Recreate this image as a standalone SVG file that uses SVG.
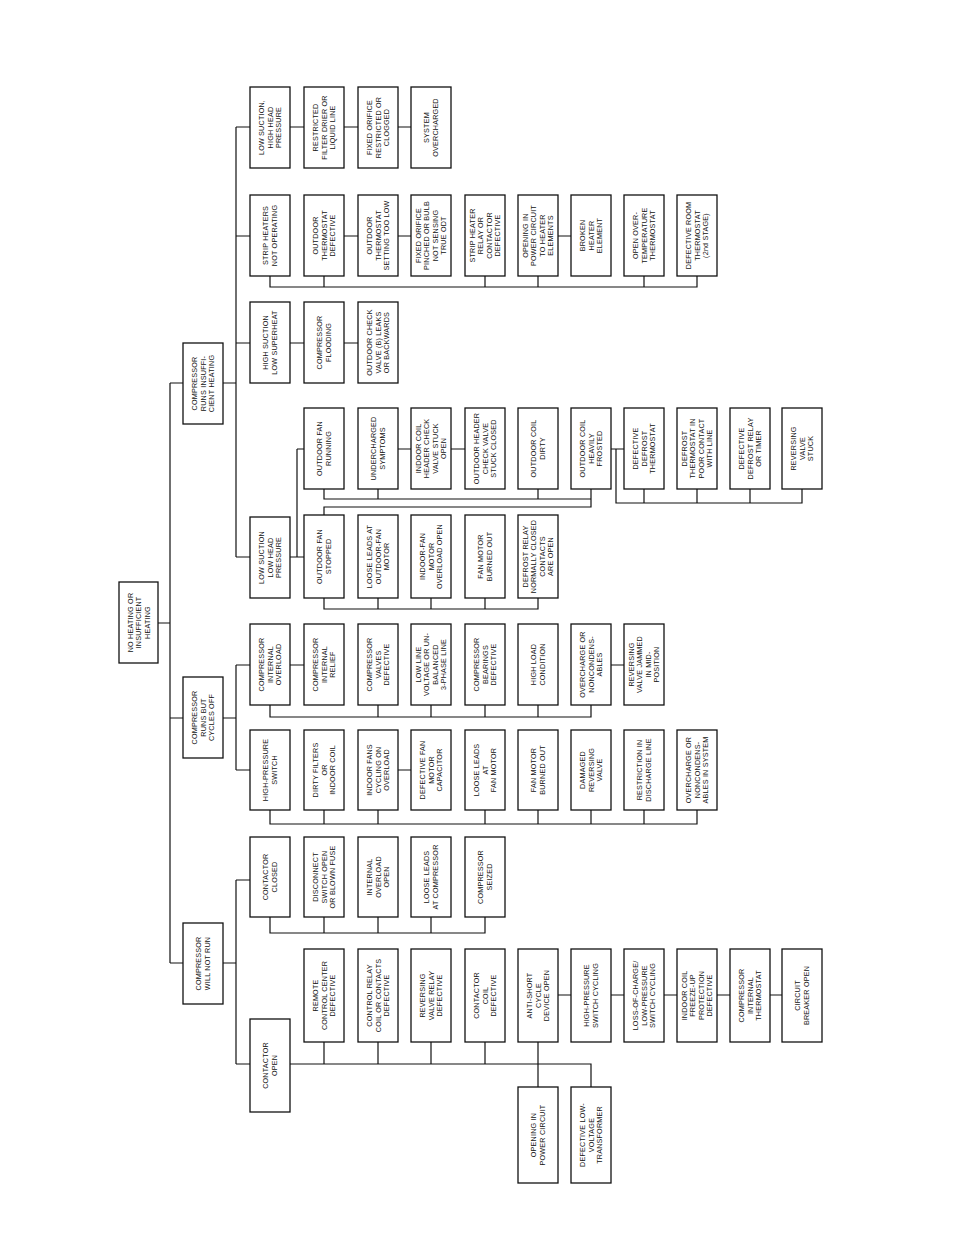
<svg xmlns="http://www.w3.org/2000/svg" width="954" height="1235" viewBox="0 0 954 1235">
<style>
rect{fill:#fff;stroke:#111;stroke-width:1.3}
text{font-family:"Liberation Sans",Arial,sans-serif;font-size:7.2px;fill:#111;text-anchor:middle;letter-spacing:0.2px}
#connectors path{fill:none;stroke:#111;stroke-width:1.2}
</style>
<rect x="0" y="0" width="954" height="1235" style="stroke:none"/>
<g id="connectors">
<path d="M158 623H170M170 383V963M170 383H183M170 718H183M170 963H183"/>
<path d="M223 383H236M236 127V557M236 127H250M236 236H250M236 343H250M236 557H250"/>
<path d="M290 127H304M344 127H358M398 127H411"/>
<path d="M344 236H358M398 236H411M558 236H571M270 276V287H697V276M324 276V287M485 276V287M538 276V287M644 276V287"/>
<path d="M290 343H304M344 343H358"/>
<path d="M290 557H297M297 449V557H304M297 449H304M398 449H411M451 449H465M611 449H624M616 449V503H802V489M644 489V503M697 489V503M750 489V503"/>
<path d="M324 489V499H591V489M378 489V499M538 489V499M591 499V507H324V515"/>
<path d="M324 598V609H538V598M378 598V609M431 598V609M485 598V609"/>
<path d="M223 718H236M236 665V770M236 665H250M236 770H250"/>
<path d="M290 665H304M611 665H624M270 705V717H591V705M378 705V717M431 705V717M485 705V717M538 705V717"/>
<path d="M398 770H411M270 810V824H697V810M324 810V824M378 810V824M485 810V824M538 810V824M591 810V824M644 810V824"/>
<path d="M223 963H236M236 880V1064M236 880H250M236 1064H250"/>
<path d="M270 917V933H485V917M324 917V933M378 917V933M431 917V933"/>
<path d="M290 1064H591V1087M324 1042V1064M378 1042V1064M431 1042V1064M485 1042V1064M538 1042V1087"/>
<path d="M558 995H571M611 995H624M664 995H677M717 995H730M770 995H782"/>
</g>
<g id="root"><rect x="119" y="582" width="39" height="81"/><text transform="translate(138.5 622.5) rotate(-90)"><tspan x="0" y="-5.9">NO HEATING OR</tspan><tspan x="0" y="2.6">INSUFFICIENT</tspan><tspan x="0" y="11.1">HEATING</tspan></text></g>
<g id="insuff"><rect x="183" y="343" width="40" height="81"/><text transform="translate(203 383.5) rotate(-90)"><tspan x="0" y="-5.9">COMPRESSOR</tspan><tspan x="0" y="2.6">RUNS INSUFFI-</tspan><tspan x="0" y="11.1">CIENT HEATING</tspan></text></g>
<g id="cycles"><rect x="183" y="677" width="40" height="81"/><text transform="translate(203 717.5) rotate(-90)"><tspan x="0" y="-5.9">COMPRESSOR</tspan><tspan x="0" y="2.6">RUNS BUT</tspan><tspan x="0" y="11.1">CYCLES OFF</tspan></text></g>
<g id="notrun"><rect x="183" y="923" width="40" height="81"/><text transform="translate(203 963.5) rotate(-90)"><tspan x="0" y="-1.65">COMPRESSOR</tspan><tspan x="0" y="6.85">WILL NOT RUN</tspan></text></g>

<g id="a1A"><rect x="250" y="87" width="40" height="81"/><text transform="translate(270 127.5) rotate(-90)"><tspan x="0" y="-5.9">LOW SUCTION,</tspan><tspan x="0" y="2.6">HIGH HEAD</tspan><tspan x="0" y="11.1">PRESSURE</tspan></text></g>
<g id="a1B"><rect x="304" y="87" width="40" height="81"/><text transform="translate(324 127.5) rotate(-90)"><tspan x="0" y="-5.9">RESTRICTED</tspan><tspan x="0" y="2.6">FILTER DRIER OR</tspan><tspan x="0" y="11.1">LIQUID LINE</tspan></text></g>
<g id="a1C"><rect x="358" y="87" width="40" height="81"/><text transform="translate(378 127.5) rotate(-90)"><tspan x="0" y="-5.9">FIXED ORIFICE</tspan><tspan x="0" y="2.6">RESTRICTED OR</tspan><tspan x="0" y="11.1">CLOGGED</tspan></text></g>
<g id="a1D"><rect x="411" y="87" width="40" height="81"/><text transform="translate(431 127.5) rotate(-90)"><tspan x="0" y="-1.65">SYSTEM</tspan><tspan x="0" y="6.85">OVERCHARGED</tspan></text></g>

<g id="a2A"><rect x="250" y="195" width="40" height="81"/><text transform="translate(270 235.5) rotate(-90)"><tspan x="0" y="-1.65">STRIP HEATERS</tspan><tspan x="0" y="6.85">NOT OPERATING</tspan></text></g>
<g id="a2B"><rect x="304" y="195" width="40" height="81"/><text transform="translate(324 235.5) rotate(-90)"><tspan x="0" y="-5.9">OUTDOOR</tspan><tspan x="0" y="2.6">THERMOSTAT</tspan><tspan x="0" y="11.1">DEFECTIVE</tspan></text></g>
<g id="a2C"><rect x="358" y="195" width="40" height="81"/><text transform="translate(378 235.5) rotate(-90)"><tspan x="0" y="-5.9">OUTDOOR</tspan><tspan x="0" y="2.6">THERMOSTAT</tspan><tspan x="0" y="11.1">SETTING TOO LOW</tspan></text></g>
<g id="a2D"><rect x="411" y="195" width="40" height="81"/><text transform="translate(431 235.5) rotate(-90)"><tspan x="0" y="-10.15">FIXED ORIFICE</tspan><tspan x="0" y="-1.65">PINCHED OR BULB</tspan><tspan x="0" y="6.85">NOT SENSING</tspan><tspan x="0" y="15.35">TRUE ODT</tspan></text></g>
<g id="a2E"><rect x="465" y="195" width="40" height="81"/><text transform="translate(485 235.5) rotate(-90)"><tspan x="0" y="-10.15">STRIP HEATER</tspan><tspan x="0" y="-1.65">RELAY OR</tspan><tspan x="0" y="6.85">CONTACTOR</tspan><tspan x="0" y="15.35">DEFECTIVE</tspan></text></g>
<g id="a2F"><rect x="518" y="195" width="40" height="81"/><text transform="translate(538 235.5) rotate(-90)"><tspan x="0" y="-10.15">OPENING IN</tspan><tspan x="0" y="-1.65">POWER CIRCUIT</tspan><tspan x="0" y="6.85">TO HEATER</tspan><tspan x="0" y="15.35">ELEMENTS</tspan></text></g>
<g id="a2G"><rect x="571" y="195" width="40" height="81"/><text transform="translate(591 235.5) rotate(-90)"><tspan x="0" y="-5.9">BROKEN</tspan><tspan x="0" y="2.6">HEATER</tspan><tspan x="0" y="11.1">ELEMENT</tspan></text></g>
<g id="a2H"><rect x="624" y="195" width="40" height="81"/><text transform="translate(644 235.5) rotate(-90)"><tspan x="0" y="-5.9">OPEN OVER-</tspan><tspan x="0" y="2.6">TEMPERATURE</tspan><tspan x="0" y="11.1">THERMOSTAT</tspan></text></g>
<g id="a2I"><rect x="677" y="195" width="40" height="81"/><text transform="translate(697 235.5) rotate(-90)"><tspan x="0" y="-5.9">DEFECTIVE ROOM</tspan><tspan x="0" y="2.6">THERMOSTAT</tspan><tspan x="0" y="11.1">(2nd STAGE)</tspan></text></g>

<g id="a3A"><rect x="250" y="302" width="40" height="81"/><text transform="translate(270 342.5) rotate(-90)"><tspan x="0" y="-1.65">HIGH SUCTION</tspan><tspan x="0" y="6.85">LOW SUPERHEAT</tspan></text></g>
<g id="a3B"><rect x="304" y="302" width="40" height="81"/><text transform="translate(324 342.5) rotate(-90)"><tspan x="0" y="-1.65">COMPRESSOR</tspan><tspan x="0" y="6.85">FLOODING</tspan></text></g>
<g id="a3C"><rect x="358" y="302" width="40" height="81"/><text transform="translate(378 342.5) rotate(-90)"><tspan x="0" y="-5.9">OUTDOOR CHECK</tspan><tspan x="0" y="2.6">VALVE (B) LEAKS</tspan><tspan x="0" y="11.1">OR BACKWARDS</tspan></text></g>

<g id="a4A"><rect x="250" y="517" width="40" height="81"/><text transform="translate(270 557.5) rotate(-90)"><tspan x="0" y="-5.9">LOW SUCTION</tspan><tspan x="0" y="2.6">LOW HEAD</tspan><tspan x="0" y="11.1">PRESSURE</tspan></text></g>
<g id="a4uB"><rect x="304" y="408" width="40" height="81"/><text transform="translate(324 448.5) rotate(-90)"><tspan x="0" y="-1.65">OUTDOOR FAN</tspan><tspan x="0" y="6.85">RUNNING</tspan></text></g>
<g id="a4uC"><rect x="358" y="408" width="40" height="81"/><text transform="translate(378 448.5) rotate(-90)"><tspan x="0" y="-1.65">UNDERCHARGED</tspan><tspan x="0" y="6.85">SYMPTOMS</tspan></text></g>
<g id="a4uD"><rect x="411" y="408" width="40" height="81"/><text transform="translate(431 448.5) rotate(-90)"><tspan x="0" y="-10.15">INDOOR COIL</tspan><tspan x="0" y="-1.65">HEADER CHECK</tspan><tspan x="0" y="6.85">VALVE STUCK</tspan><tspan x="0" y="15.35">OPEN</tspan></text></g>
<g id="a4uE"><rect x="465" y="408" width="40" height="81"/><text transform="translate(485 448.5) rotate(-90)"><tspan x="0" y="-5.9">OUTDOOR HEADER</tspan><tspan x="0" y="2.6">CHECK VALVE</tspan><tspan x="0" y="11.1">STUCK CLOSED</tspan></text></g>
<g id="a4uF"><rect x="518" y="408" width="40" height="81"/><text transform="translate(538 448.5) rotate(-90)"><tspan x="0" y="-1.65">OUTDOOR COIL</tspan><tspan x="0" y="6.85">DIRTY</tspan></text></g>
<g id="a4uG"><rect x="571" y="408" width="40" height="81"/><text transform="translate(591 448.5) rotate(-90)"><tspan x="0" y="-5.9">OUTDOOR COIL</tspan><tspan x="0" y="2.6">HEAVILY</tspan><tspan x="0" y="11.1">FROSTED</tspan></text></g>
<g id="a4uH"><rect x="624" y="408" width="40" height="81"/><text transform="translate(644 448.5) rotate(-90)"><tspan x="0" y="-5.9">DEFECTIVE</tspan><tspan x="0" y="2.6">DEFROST</tspan><tspan x="0" y="11.1">THERMOSTAT</tspan></text></g>
<g id="a4uI"><rect x="677" y="408" width="40" height="81"/><text transform="translate(697 448.5) rotate(-90)"><tspan x="0" y="-10.15">DEFROST</tspan><tspan x="0" y="-1.65">THERMOSTAT IN</tspan><tspan x="0" y="6.85">POOR CONTACT</tspan><tspan x="0" y="15.35">WITH LINE</tspan></text></g>
<g id="a4uJ"><rect x="730" y="408" width="40" height="81"/><text transform="translate(750 448.5) rotate(-90)"><tspan x="0" y="-5.9">DEFECTIVE</tspan><tspan x="0" y="2.6">DEFROST RELAY</tspan><tspan x="0" y="11.1">OR TIMER</tspan></text></g>
<g id="a4uK"><rect x="782" y="408" width="40" height="81"/><text transform="translate(802 448.5) rotate(-90)"><tspan x="0" y="-5.9">REVERSING</tspan><tspan x="0" y="2.6">VALVE</tspan><tspan x="0" y="11.1">STUCK</tspan></text></g>
<g id="a4lB"><rect x="304" y="515" width="40" height="83"/><text transform="translate(324 556.5) rotate(-90)"><tspan x="0" y="-1.65">OUTDOOR FAN</tspan><tspan x="0" y="6.85">STOPPED</tspan></text></g>
<g id="a4lC"><rect x="358" y="515" width="40" height="83"/><text transform="translate(378 556.5) rotate(-90)"><tspan x="0" y="-5.9">LOOSE LEADS AT</tspan><tspan x="0" y="2.6">OUTDOOR-FAN</tspan><tspan x="0" y="11.1">MOTOR</tspan></text></g>
<g id="a4lD"><rect x="411" y="515" width="40" height="83"/><text transform="translate(431 556.5) rotate(-90)"><tspan x="0" y="-5.9">INDOOR-FAN</tspan><tspan x="0" y="2.6">MOTOR</tspan><tspan x="0" y="11.1">OVERLOAD OPEN</tspan></text></g>
<g id="a4lE"><rect x="465" y="515" width="40" height="83"/><text transform="translate(485 556.5) rotate(-90)"><tspan x="0" y="-1.65">FAN MOTOR</tspan><tspan x="0" y="6.85">BURNED OUT</tspan></text></g>
<g id="a4lF"><rect x="518" y="515" width="40" height="83"/><text transform="translate(538 556.5) rotate(-90)"><tspan x="0" y="-10.15">DEFROST RELAY</tspan><tspan x="0" y="-1.65">NORMALLY CLOSED</tspan><tspan x="0" y="6.85">CONTACTS</tspan><tspan x="0" y="15.35">ARE OPEN</tspan></text></g>

<g id="b1A"><rect x="250" y="624" width="40" height="81"/><text transform="translate(270 664.5) rotate(-90)"><tspan x="0" y="-5.9">COMPRESSOR</tspan><tspan x="0" y="2.6">INTERNAL</tspan><tspan x="0" y="11.1">OVERLOAD</tspan></text></g>
<g id="b1B"><rect x="304" y="624" width="40" height="81"/><text transform="translate(324 664.5) rotate(-90)"><tspan x="0" y="-5.9">COMPRESSOR</tspan><tspan x="0" y="2.6">INTERNAL</tspan><tspan x="0" y="11.1">RELIEF</tspan></text></g>
<g id="b1C"><rect x="358" y="624" width="40" height="81"/><text transform="translate(378 664.5) rotate(-90)"><tspan x="0" y="-5.9">COMPRESSOR</tspan><tspan x="0" y="2.6">VALVES</tspan><tspan x="0" y="11.1">DEFECTIVE</tspan></text></g>
<g id="b1D"><rect x="411" y="624" width="40" height="81"/><text transform="translate(431 664.5) rotate(-90)"><tspan x="0" y="-10.15">LOW LINE</tspan><tspan x="0" y="-1.65">VOLTAGE OR UN-</tspan><tspan x="0" y="6.85">BALANCED</tspan><tspan x="0" y="15.35">3-PHASE LINE</tspan></text></g>
<g id="b1E"><rect x="465" y="624" width="40" height="81"/><text transform="translate(485 664.5) rotate(-90)"><tspan x="0" y="-5.9">COMPRESSOR</tspan><tspan x="0" y="2.6">BEARINGS</tspan><tspan x="0" y="11.1">DEFECTIVE</tspan></text></g>
<g id="b1F"><rect x="518" y="624" width="40" height="81"/><text transform="translate(538 664.5) rotate(-90)"><tspan x="0" y="-1.65">HIGH LOAD</tspan><tspan x="0" y="6.85">CONDITION</tspan></text></g>
<g id="b1G"><rect x="571" y="624" width="40" height="81"/><text transform="translate(591 664.5) rotate(-90)"><tspan x="0" y="-5.9">OVERCHARGE OR</tspan><tspan x="0" y="2.6">NONCONDENS-</tspan><tspan x="0" y="11.1">ABLES</tspan></text></g>
<g id="b1H"><rect x="624" y="624" width="40" height="81"/><text transform="translate(644 664.5) rotate(-90)"><tspan x="0" y="-10.15">REVERSING</tspan><tspan x="0" y="-1.65">VALVE JAMMED</tspan><tspan x="0" y="6.85">IN MID-</tspan><tspan x="0" y="15.35">POSITION</tspan></text></g>

<g id="b2A"><rect x="250" y="730" width="40" height="80"/><text transform="translate(270 770) rotate(-90)"><tspan x="0" y="-1.65">HIGH-PRESSURE</tspan><tspan x="0" y="6.85">SWITCH</tspan></text></g>
<g id="b2B"><rect x="304" y="730" width="40" height="80"/><text transform="translate(324 770) rotate(-90)"><tspan x="0" y="-5.9">DIRTY FILTERS</tspan><tspan x="0" y="2.6">OR</tspan><tspan x="0" y="11.1">INDOOR COIL</tspan></text></g>
<g id="b2C"><rect x="358" y="730" width="40" height="80"/><text transform="translate(378 770) rotate(-90)"><tspan x="0" y="-5.9">INDOOR FANS</tspan><tspan x="0" y="2.6">CYCLING ON</tspan><tspan x="0" y="11.1">OVERLOAD</tspan></text></g>
<g id="b2D"><rect x="411" y="730" width="40" height="80"/><text transform="translate(431 770) rotate(-90)"><tspan x="0" y="-5.9">DEFECTIVE FAN</tspan><tspan x="0" y="2.6">MOTOR</tspan><tspan x="0" y="11.1">CAPACITOR</tspan></text></g>
<g id="b2E"><rect x="465" y="730" width="40" height="80"/><text transform="translate(485 770) rotate(-90)"><tspan x="0" y="-5.9">LOOSE LEADS</tspan><tspan x="0" y="2.6">AT</tspan><tspan x="0" y="11.1">FAN MOTOR</tspan></text></g>
<g id="b2F"><rect x="518" y="730" width="40" height="80"/><text transform="translate(538 770) rotate(-90)"><tspan x="0" y="-1.65">FAN MOTOR</tspan><tspan x="0" y="6.85">BURNED OUT</tspan></text></g>
<g id="b2G"><rect x="571" y="730" width="40" height="80"/><text transform="translate(591 770) rotate(-90)"><tspan x="0" y="-5.9">DAMAGED</tspan><tspan x="0" y="2.6">REVERSING</tspan><tspan x="0" y="11.1">VALVE</tspan></text></g>
<g id="b2H"><rect x="624" y="730" width="40" height="80"/><text transform="translate(644 770) rotate(-90)"><tspan x="0" y="-1.65">RESTRICTION IN</tspan><tspan x="0" y="6.85">DISCHARGE LINE</tspan></text></g>
<g id="b2I"><rect x="677" y="730" width="40" height="80"/><text transform="translate(697 770) rotate(-90)"><tspan x="0" y="-5.9">OVERCHARGE OR</tspan><tspan x="0" y="2.6">NONCONDENS-</tspan><tspan x="0" y="11.1">ABLES IN SYSTEM</tspan></text></g>

<g id="c1A"><rect x="250" y="837" width="40" height="80"/><text transform="translate(270 877) rotate(-90)"><tspan x="0" y="-1.65">CONTACTOR</tspan><tspan x="0" y="6.85">CLOSED</tspan></text></g>
<g id="c1B"><rect x="304" y="837" width="40" height="80"/><text transform="translate(324 877) rotate(-90)"><tspan x="0" y="-5.9">DISCONNECT</tspan><tspan x="0" y="2.6">SWITCH OPEN</tspan><tspan x="0" y="11.1">OR BLOWN FUSE</tspan></text></g>
<g id="c1C"><rect x="358" y="837" width="40" height="80"/><text transform="translate(378 877) rotate(-90)"><tspan x="0" y="-5.9">INTERNAL</tspan><tspan x="0" y="2.6">OVERLOAD</tspan><tspan x="0" y="11.1">OPEN</tspan></text></g>
<g id="c1D"><rect x="411" y="837" width="40" height="80"/><text transform="translate(431 877) rotate(-90)"><tspan x="0" y="-1.65">LOOSE LEADS</tspan><tspan x="0" y="6.85">AT COMPRESSOR</tspan></text></g>
<g id="c1E"><rect x="465" y="837" width="40" height="80"/><text transform="translate(485 877) rotate(-90)"><tspan x="0" y="-1.65">COMPRESSOR</tspan><tspan x="0" y="6.85">SEIZED</tspan></text></g>

<g id="c2A"><rect x="250" y="1019" width="40" height="93"/><text transform="translate(270 1065.5) rotate(-90)"><tspan x="0" y="-1.65">CONTACTOR</tspan><tspan x="0" y="6.85">OPEN</tspan></text></g>
<g id="c2B"><rect x="304" y="949" width="40" height="93"/><text transform="translate(324 995.5) rotate(-90)"><tspan x="0" y="-5.9">REMOTE</tspan><tspan x="0" y="2.6">CONTROL CENTER</tspan><tspan x="0" y="11.1">DEFECTIVE</tspan></text></g>
<g id="c2C"><rect x="358" y="949" width="40" height="93"/><text transform="translate(378 995.5) rotate(-90)"><tspan x="0" y="-5.9">CONTROL RELAY</tspan><tspan x="0" y="2.6">COIL OR CONTACTS</tspan><tspan x="0" y="11.1">DEFECTIVE</tspan></text></g>
<g id="c2D"><rect x="411" y="949" width="40" height="93"/><text transform="translate(431 995.5) rotate(-90)"><tspan x="0" y="-5.9">REVERSING</tspan><tspan x="0" y="2.6">VALVE RELAY</tspan><tspan x="0" y="11.1">DEFECTIVE</tspan></text></g>
<g id="c2E"><rect x="465" y="949" width="40" height="93"/><text transform="translate(485 995.5) rotate(-90)"><tspan x="0" y="-5.9">CONTACTOR</tspan><tspan x="0" y="2.6">COIL</tspan><tspan x="0" y="11.1">DEFECTIVE</tspan></text></g>
<g id="c2F"><rect x="518" y="949" width="40" height="93"/><text transform="translate(538 995.5) rotate(-90)"><tspan x="0" y="-5.9">ANTI-SHORT</tspan><tspan x="0" y="2.6">CYCLE</tspan><tspan x="0" y="11.1">DEVICE OPEN</tspan></text></g>
<g id="c2G"><rect x="571" y="949" width="40" height="93"/><text transform="translate(591 995.5) rotate(-90)"><tspan x="0" y="-1.65">HIGH-PRESSURE</tspan><tspan x="0" y="6.85">SWITCH CYCLING</tspan></text></g>
<g id="c2H"><rect x="624" y="949" width="40" height="93"/><text transform="translate(644 995.5) rotate(-90)"><tspan x="0" y="-5.9">LOSS-OF-CHARGE/</tspan><tspan x="0" y="2.6">LOW-PRESSURE</tspan><tspan x="0" y="11.1">SWITCH CYCLING</tspan></text></g>
<g id="c2I"><rect x="677" y="949" width="40" height="93"/><text transform="translate(697 995.5) rotate(-90)"><tspan x="0" y="-10.15">INDOOR COIL</tspan><tspan x="0" y="-1.65">FREEZE-UP</tspan><tspan x="0" y="6.85">PROTECTION</tspan><tspan x="0" y="15.35">DEFECTIVE</tspan></text></g>
<g id="c2J"><rect x="730" y="949" width="40" height="93"/><text transform="translate(750 995.5) rotate(-90)"><tspan x="0" y="-5.9">COMPRESSOR</tspan><tspan x="0" y="2.6">INTERNAL</tspan><tspan x="0" y="11.1">THERMOSTAT</tspan></text></g>
<g id="c2K"><rect x="782" y="949" width="40" height="93"/><text transform="translate(802 995.5) rotate(-90)"><tspan x="0" y="-1.65">CIRCUIT</tspan><tspan x="0" y="6.85">BREAKER OPEN</tspan></text></g>
<g id="c3F"><rect x="518" y="1087" width="40" height="96"/><text transform="translate(538 1135) rotate(-90)"><tspan x="0" y="-1.65">OPENING IN</tspan><tspan x="0" y="6.85">POWER CIRCUIT</tspan></text></g>
<g id="c3G"><rect x="571" y="1087" width="40" height="96"/><text transform="translate(591 1135) rotate(-90)"><tspan x="0" y="-5.9">DEFECTIVE LOW-</tspan><tspan x="0" y="2.6">VOLTAGE</tspan><tspan x="0" y="11.1">TRANSFORMER</tspan></text></g>
</svg>
